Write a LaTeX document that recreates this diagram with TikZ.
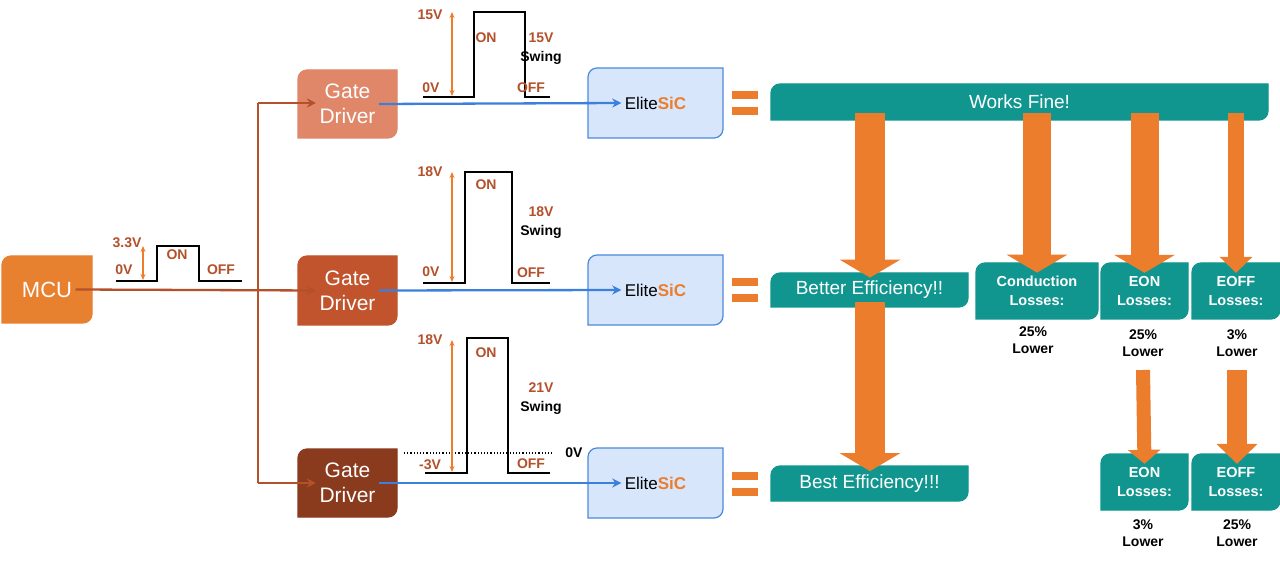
\documentclass[tikz,border=0pt]{standalone}
\usepackage{fontspec}
\setmainfont{Liberation Sans}
\usetikzlibrary{arrows.meta,calc}
\definecolor{mcuor}{HTML}{E8812F}
\definecolor{gd1}{HTML}{E0876A}
\definecolor{gd2}{HTML}{C1542C}
\definecolor{gd3}{HTML}{8A3A1D}
\definecolor{brn}{HTML}{B4502A}
\definecolor{blu}{HTML}{3B80DC}
\definecolor{sicf}{HTML}{D7E6FB}
\definecolor{sicd}{HTML}{4A8ADB}
\definecolor{tl}{HTML}{11968F}
\definecolor{bigor}{HTML}{EC7D2C}
\newcommand\dbox[9]{%
  \filldraw[fill=#2,draw=#3,line width=1.2pt] (#4,#7) [rounded corners=9pt] -- (#4,#5) [sharp corners] -- (#6,#5) [rounded corners=9pt] -- (#6,#7) [sharp corners] -- cycle;
  \node[align=center,#8] (#1) at ($(#4,#5)!0.5!(#6,#7)$) {#9};}
\tikzset{
  lbl/.style={font=\bfseries\fontsize{14}{15}\selectfont,text=brn},
  blk/.style={font=\bfseries\fontsize{14}{17}\selectfont,text=black},
  wave/.style={line width=2.5pt,black},
  vol/.style={draw=bigor,line width=1.3pt,{Stealth[length=6pt,width=5pt]}-{Stealth[length=6pt,width=5pt]}},
  feed/.style={draw=brn,line width=2.3pt,-{Stealth[length=9pt,width=9pt]}},
  bl/.style={draw=blu,line width=2.3pt,-{Stealth[length=9pt,width=9pt]}},
  big/.style={draw=bigor,line width=#1,-{Triangle[length=18pt,width=60pt]}},
  big/.default=30pt,
  eq/.style={fill=bigor},
  gdt/.style={text=white,font=\fontsize{21}{25}\selectfont},
  wt/.style={text=white,font=\fontsize{19}{22}\selectfont},
  lt/.style={text=white,font=\bfseries\fontsize{14.5}{19}\selectfont},
  st/.style={font=\fontsize{17}{20}\selectfont},
}
\begin{document}
\begin{tikzpicture}[x=1pt,y=-1pt]
\useasboundingbox[fill=white] (0,0) rectangle (1280,561);
% boxes
\dbox{mcu}{mcuor}{mcuor}{2}{256}{92}{323}{text=white,font=\fontsize{22}{24}\selectfont}{MCU}
\dbox{gd1}{gd1}{gd1}{298}{70}{397}{138}{gdt}{Gate\\Driver}
\dbox{gd2}{gd2}{gd2}{298}{256}{397}{325}{gdt}{Gate\\Driver}
\dbox{gd3}{gd3}{gd3}{298}{449}{397}{517}{gdt}{Gate\\Driver}
\dbox{s1}{sicf}{sicd}{588}{68}{723}{138}{st}{Elite\textcolor{bigor}{\bfseries SiC}}
\dbox{s2}{sicf}{sicd}{588}{255}{723}{325}{st}{Elite\textcolor{bigor}{\bfseries SiC}}
\dbox{s3}{sicf}{sicd}{588}{448}{723}{518}{st}{Elite\textcolor{bigor}{\bfseries SiC}}
\dbox{works}{tl}{tl}{771}{84}{1268}{120}{wt}{Works Fine!}
\dbox{better}{tl}{tl}{771}{273}{968}{307}{wt}{Better Efficiency!!}
\dbox{best}{tl}{tl}{771}{466}{968}{501}{wt}{Best Efficiency!!!}
\dbox{cond}{tl}{tl}{976}{263}{1098}{319}{lt}{Conduction\\Losses:}
\dbox{eon1}{tl}{tl}{1101}{263}{1188}{319}{lt}{EON\\Losses:}
\dbox{eoff1}{tl}{tl}{1192}{263}{1280}{319}{lt}{EOFF\\Losses:}
\dbox{eon2}{tl}{tl}{1101}{454}{1188}{510}{lt}{EON\\Losses:}
\dbox{eoff2}{tl}{tl}{1192}{454}{1280}{510}{lt}{EOFF\\Losses:}
% result texts
\node[blk,align=center] (r1) at (1033,340) {25\%\\Lower};
\node[blk,align=center] (r2) at (1143,343) {25\%\\Lower};
\node[blk,align=center] (r3) at (1237,343) {3\%\\Lower};
\node[blk,align=center] (r4) at (1143,533) {3\%\\Lower};
\node[blk,align=center] (r5) at (1237,533) {25\%\\Lower};
% MCU feed
\coordinate (j1) at (258,103);
\coordinate (j3) at (258,483);
\draw[draw=brn,line width=2.3pt] (j1) -- (j3);
\draw[feed] (mcu.east) -- (gd2.west);
\draw[feed] (j1) -- (gd1.west |- j1);
\draw[feed] (j3) -- (gd3.west |- j3);
% blue
\draw[bl] (gd1.east) -- (s1.west);
\draw[bl] (gd2.east) -- (s2.west);
\draw[bl] (gd3.east) -- (s3.west);
% MCU waveform
\draw[wave] (116,281) -- (157,281) -- (157,246) -- (199,246) -- (199,281) -- (242,281);
\draw[vol] (143,280) -- (143,246);
\node[lbl] at (127,243) {3.3V};
\node[lbl] at (124,270) {0V};
\node[lbl] at (177,255) {ON};
\node[lbl] at (221,270) {OFF};
% top waveform
\draw[wave] (423,97) -- (474,97) -- (474,12) -- (525,12) -- (525,97) -- (550,97);
\draw[vol] (452,96) -- (452,12);
\node[lbl] at (430,15) {15V};
\node[lbl] at (431,88) {0V};
\node[lbl] at (486,38) {ON};
\node[lbl] at (541,38) {15V};
\node[blk] at (541,58) {Swing};
\node[lbl] at (531,88) {OFF};
% mid waveform
\draw[wave] (423,283) -- (465,283) -- (465,172) -- (512,172) -- (512,283) -- (550,283);
\draw[vol] (452,282) -- (452,172);
\node[lbl] at (430,172) {18V};
\node[lbl] at (431,272) {0V};
\node[lbl] at (486,185) {ON};
\node[lbl] at (541,212) {18V};
\node[blk] at (541,232) {Swing};
\node[lbl] at (531,273) {OFF};
% bottom waveform
\draw[wave] (425,473) -- (467,473) -- (467,338) -- (508,338) -- (508,473) -- (550,473);
\draw[black,dotted,line width=1.2pt] (404,453) -- (553,453);
\draw[vol] (452,472) -- (452,340);
\node[lbl] at (430,340) {18V};
\node[lbl] at (430,465) {-3V};
\node[lbl] at (486,353) {ON};
\node[lbl] at (541,388) {21V};
\node[blk] at (541,408) {Swing};
\node[lbl] at (531,464) {OFF};
\node[blk] at (574,453) {0V};
% equals
\foreach \y in {103,290,484}{
  \fill[eq] (732,\y-12) rectangle (758,\y-4);
  \fill[eq] (732,\y+4) rectangle (758,\y+12);
}
% big arrows
\draw[big] (works.south -| 870,0) -- (better.north -| 870,0);
\draw[big] (better.south -| 870,0) -- (best.north -| 870,0);
\draw[big=28pt] (works.south -| cond.north) -- (cond.north);
\draw[big=28pt] (works.south -| eon1.north) -- (eon1.north);
\draw[big=16pt,-{Triangle[length=16pt,width=32pt]}] (works.south -| eoff1.north) -- (eoff1.north);
\draw[big=14pt,-{Triangle[length=14pt,width=32pt]}] (1143,370) -- (eon2.north);
\draw[big=20pt,-{Triangle[length=20pt,width=40pt]}] (1237,370) -- (eoff2.north -| 1237,0);
\end{tikzpicture}
\end{document}
